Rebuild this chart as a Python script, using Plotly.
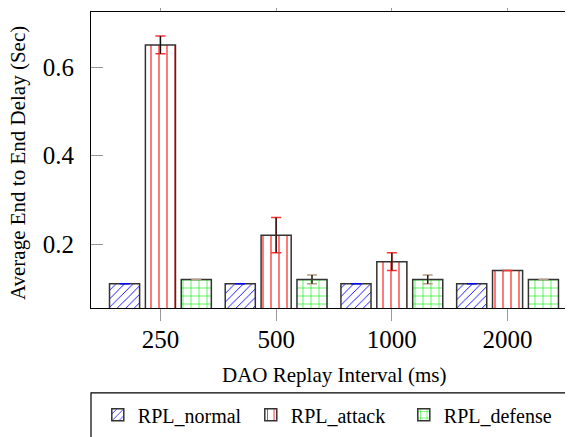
import plotly.graph_objects as go

categories = ["250", "500", "1000", "2000"]
series_names = ["RPL_normal", "RPL_attack", "RPL_defense"]
normal = [0.11, 0.11, 0.11, 0.11]
attack = [0.65, 0.22, 0.16, 0.14]
defense = [0.12, 0.12, 0.12, 0.12]
normal_err = [0, 0, 0, 0]
attack_err = [0.02, 0.04, 0.02, 0.0]
defense_err = [0.0, 0.01, 0.01, 0.0]
ytick_vals = [0.2, 0.4, 0.6]
x_title = "DAO Replay Interval (ms)"
y_title = "Average End to End Delay (Sec)"

FONT = "Liberation Serif, Times New Roman, serif"
BW = 0.26
offsets = [-0.31, 0.0, 0.31]
fg = ["#0000ff", "#ff2020", "#00ee00"]
shapes_p = ["/", "|", "+"]
cap_colors = ["#0000ff", "#ff3030", "#b89c84"]
vals = [normal, attack, defense]
errs = [normal_err, attack_err, defense_err]

fig = go.Figure()
for i in range(3):
    fig.add_trace(go.Bar(
        x=categories, y=vals[i], name=series_names[i],
        width=BW, offset=offsets[i] - BW / 2,
        marker=dict(color="white",
                    line=dict(color="#333333", width=1.5),
                    pattern=dict(shape=shapes_p[i], fgcolor=fg[i], bgcolor="white",
                                 size=8 if i else 6, solidity=0.15, fillmode="replace")),
        error_y=dict(type="data", array=errs[i], color=cap_colors[i],
                     thickness=1.5, width=5),
    ))
# black stems over the error bars
for i in (1, 2):
    fig.add_trace(go.Bar(
        x=categories, y=vals[i], showlegend=False, hoverinfo="skip",
        width=BW, offset=offsets[i] - BW / 2,
        marker=dict(color="rgba(0,0,0,0)", line=dict(width=0)),
        error_y=dict(type="data", array=errs[i], color="#111111",
                     thickness=1.3, width=0),
    ))

axis_font = dict(family=FONT, size=25, color="black")
fig.update_layout(
    width=573, height=437,
    margin=dict(l=83, r=4, t=4, b=137),
    barmode="overlay",
    plot_bgcolor="white", paper_bgcolor="white",
    font=dict(family=FONT, color="black"),
    showlegend=True,
    xaxis=dict(
        type="category", range=[-0.6, 3.6], automargin=False,
        showline=True, linecolor="black", linewidth=1.2, mirror="ticks",
        ticks="outside", ticklen=12, tickcolor="#999999", tickwidth=1.2,
        tickfont=axis_font, showgrid=False, ticklabelstandoff=-3,
    ),
    yaxis=dict(
        range=[0.0554, 0.7243], tickvals=ytick_vals, ticktext=["0.2", "0.4", "0.6"],
        automargin=False,
        showline=True, linecolor="black", linewidth=1.2, mirror="ticks",
        ticks="inside", ticklen=12, tickcolor="#999999", tickwidth=1.2,
        tickfont=axis_font, showgrid=False, zeroline=False, ticklabelstandoff=11,
    ),
    legend=dict(
        orientation="h", x=0.014, xanchor="left", y=-0.295, yanchor="top",
        font=dict(family=FONT, size=20), borderwidth=0, bgcolor="rgba(0,0,0,0)",
        entrywidth=108, entrywidthmode="pixels", traceorder="normal",
    ),
    shapes=[dict(type="rect", xref="paper", yref="paper",
                 x0=0, x1=1.1, y0=-0.287, y1=-0.6,
                 line=dict(color="black", width=1.2), fillcolor="rgba(0,0,0,0)")],
    annotations=[
        dict(text=x_title, xref="paper", yref="paper", x=0.5, y=-0.226,
             xanchor="center", yanchor="middle", showarrow=False,
             font=dict(family=FONT, size=21, color="black")),
        dict(text=y_title, xref="paper", yref="paper", x=-0.150, y=0.49,
             xanchor="center", yanchor="middle", showarrow=False, textangle=-90,
             font=dict(family=FONT, size=21, color="black")),
    ],
)

fig.write_html("out.html")
